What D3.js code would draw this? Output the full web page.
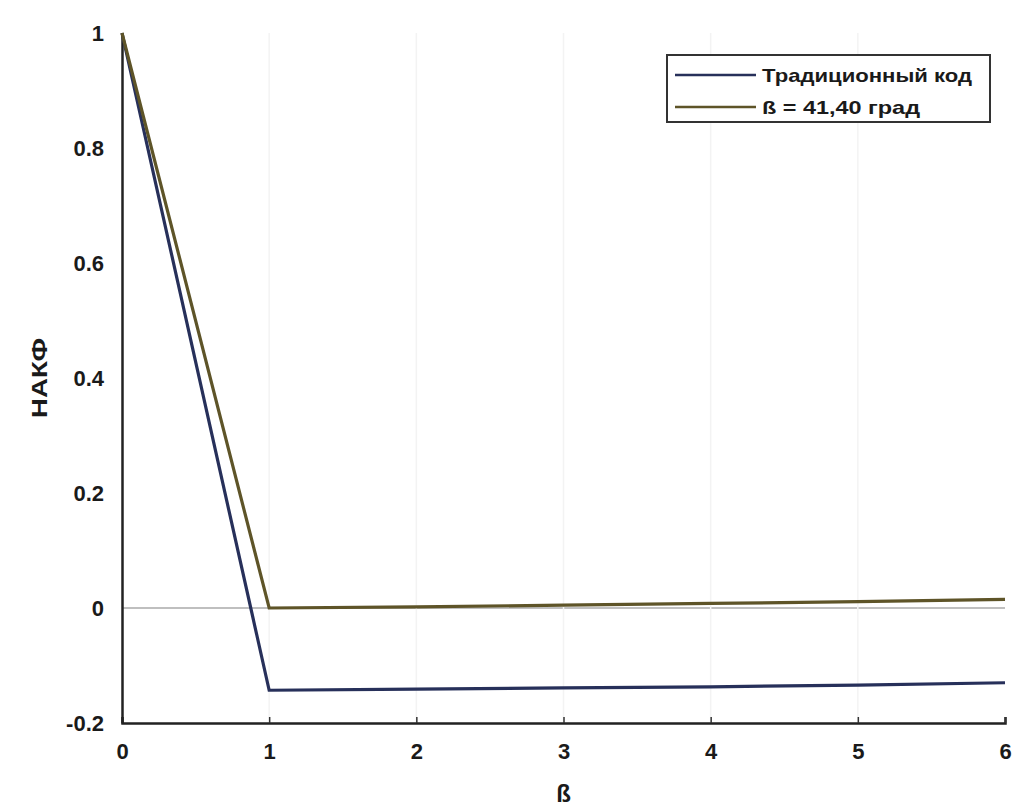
<!DOCTYPE html>
<html><head><meta charset="utf-8">
<script src="https://cdn.jsdelivr.net/npm/d3@7"></script>
<style>body{margin:0;background:#fff}</style>
</head><body>
<svg id="c" width="1013" height="812"></svg>
<script>
const xValues = [0, 1, 2, 3, 4, 5, 6];
const traditional = [1, -0.143, -0.141, -0.139, -0.137, -0.134, -0.130];
const beta = [1, 0.000, 0.002, 0.005, 0.008, 0.011, 0.015];
const seriesNames = ["Традиционный код", "ß = 41,40 град"];
const xTicks = [0, 1, 2, 3, 4, 5, 6];
const yTicks = [-0.2, 0, 0.2, 0.4, 0.6, 0.8, 1];

const svg = d3.select("#c");
const m = {l:122, r:1005, t:33, b:723};
const x = d3.scaleLinear().domain([0,6]).range([m.l, m.r]);
const y = d3.scaleLinear().domain([-0.2,1]).range([m.b, m.t]);
const font = "Liberation Sans, Arial, sans-serif";

// faint zero line
svg.append("line").attr("x1", x(0)).attr("x2", x(6)).attr("y1", y(0)).attr("y2", y(0))
  .attr("stroke", "#aaa").attr("stroke-width", 1.5);
// very faint vertical grid
svg.selectAll(".vg").data(xTicks.slice(1,6)).enter().append("line")
  .attr("x1", d=>x(d)).attr("x2", d=>x(d)).attr("y1", y(1)).attr("y2", y(-0.2))
  .attr("stroke", "#f3f3f3").attr("stroke-width", 1.5);

const xa = svg.append("g").attr("transform", `translate(0,${m.b})`)
  .call(d3.axisBottom(x).tickValues(xTicks).tickSize(-6).tickPadding(20).tickFormat(d3.format("d")));
const ya = svg.append("g").attr("transform", `translate(${m.l},0)`)
  .call(d3.axisLeft(y).tickValues(yTicks).tickSize(0).tickPadding(18).tickFormat(d => String(d)));
[xa, ya].forEach(a => {
  a.select(".domain").attr("stroke", "#222").attr("stroke-width", 2.5);
  a.selectAll(".tick line").attr("stroke", "#333").attr("stroke-width", 1.5);
  a.selectAll("text").attr("font-family", font).attr("font-weight", "bold")
   .attr("font-size", 22).attr("fill", "#1a1a1a");
});

const line = d3.line().x((d,i)=>x(xValues[i])).y(d=>y(d));
const colors = ["#27305a", "#5e5428"];
[traditional, beta].forEach((s, k) => {
  svg.append("path").datum(s).attr("d", line).attr("fill", "none")
    .attr("stroke", colors[k]).attr("stroke-width", 3.2).attr("stroke-linejoin", "miter");
});

// axis labels
svg.append("text").attr("x", x(3)).attr("y", 802).attr("text-anchor", "middle")
  .attr("font-family", font).attr("font-weight", "bold").attr("font-size", 24).attr("fill", "#1a1a1a").text("ß");
svg.append("text").attr("transform", `translate(47,${y(0.4)}) rotate(-90)`).attr("text-anchor", "middle")
  .attr("font-family", font).attr("font-weight", "bold").attr("font-size", 22)
  .attr("textLength", 80).attr("lengthAdjust", "spacingAndGlyphs").attr("fill", "#1a1a1a").text("НАКФ");

// legend
const lg = svg.append("g");
lg.append("rect").attr("x", 667).attr("y", 55).attr("width", 323).attr("height", 67)
  .attr("fill", "#fff").attr("stroke", "#333").attr("stroke-width", 2);
seriesNames.forEach((n, k) => {
  const yy = 75 + k*32;
  lg.append("line").attr("x1", 675).attr("x2", 756).attr("y1", yy).attr("y2", yy)
    .attr("stroke", colors[k]).attr("stroke-width", 2.5);
  lg.append("text").attr("x", 762).attr("y", yy+7).attr("font-family", font).attr("font-weight", "bold")
    .attr("font-size", 19).attr("textLength", k===0 ? 210 : 158).attr("lengthAdjust", "spacingAndGlyphs")
    .attr("fill", "#1a1a1a").text(n);
});
</script>
</body></html>
